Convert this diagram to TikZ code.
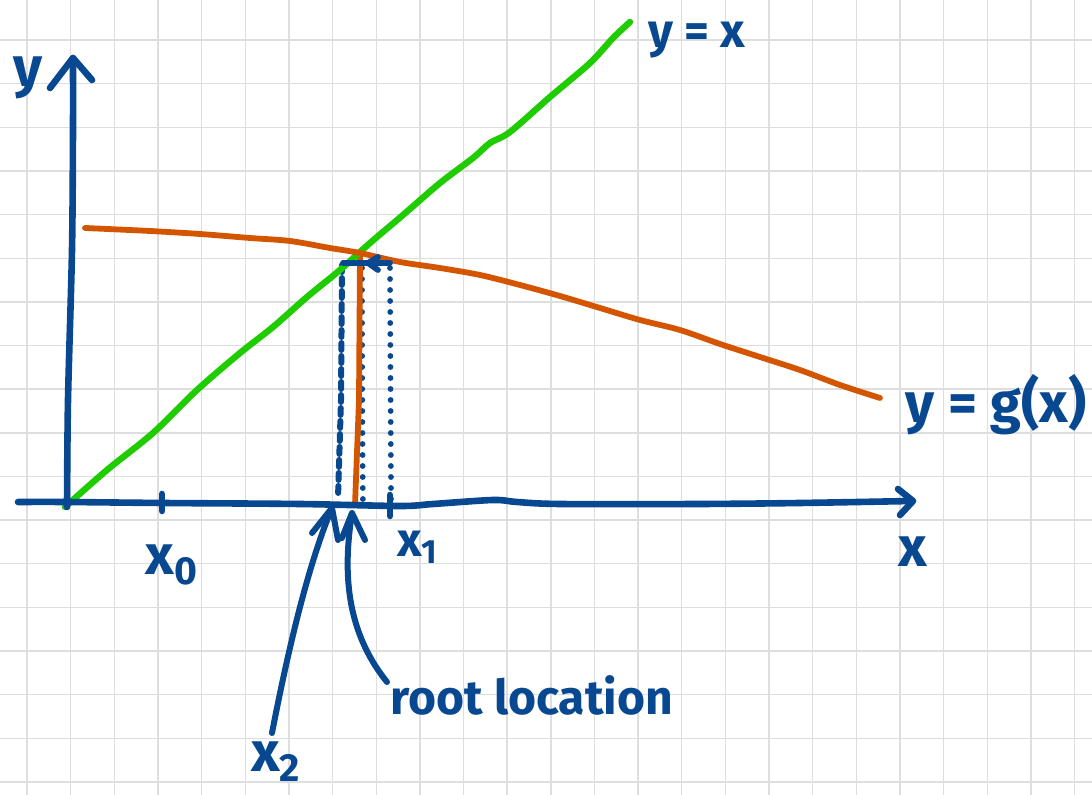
\documentclass[tikz,border=0pt]{standalone}
\usepackage{fontspec}
\setmainfont{Fira Sans}
\definecolor{inkblue}{RGB}{8,72,145}
\definecolor{lgreen}{RGB}{30,204,0}
\definecolor{rorange}{RGB}{212,85,0}
\begin{document}
\begin{tikzpicture}[x=0.5pt,y=-0.5pt,line cap=round,line join=round,
  gridline/.style={draw=black!13,line width=0.7pt},
  inkline/.style={draw=inkblue,line width=3.3pt},
  greenline/.style={draw=lgreen,line width=3.2pt},
  orangeline/.style={draw=rorange,line width=2.9pt},
  inkdot/.style={fill=inkblue},
  dashline/.style={draw=inkblue,line width=3pt,line cap=round,dash pattern=on 3.5pt off 3pt},
  lbl/.style={text=inkblue,inner sep=0pt,font=\bfseries\fontsize{24}{28}\selectfont},
  biglbl/.style={text=inkblue,inner sep=0pt,font=\bfseries\fontsize{28}{32}\selectfont}]
\useasboundingbox (0,0) rectangle (1092,795);
\fill[white] (0,0) rectangle (1092,795);
% grid
\foreach \k in {0,...,24} \draw[gridline] ({27+43.65*\k},0) -- ({27+43.65*\k},795);
\foreach \k in {0,...,17} \draw[gridline] (0,{40+43.65*\k}) -- (1092,{40+43.65*\k});
% dotted construction lines
\draw[dashline] (342,265) -- (341,400) -- (338,498);
\foreach \k in {0,...,21} \fill[inkdot] ({362+0.002*\k*\k},{268+11*\k}) circle[radius=1.45pt];
\foreach \k in {0,...,21} \fill[inkdot] ({390+0.05*\k},{268+11*\k}) circle[radius=1.45pt];
% orange vertical
\draw[orangeline] (360,255) -- (359,400) -- (355,505);
% green line y = x
\draw[greenline] plot[smooth,tension=0.5] coordinates {(65,507) (107,470) (153,433) (197,390) (240,353) (273,327) (307,297) (340,270) (370,243) (403,215) (440,183) (473,158) (490,143) (510,132) (550,97) (590,63) (613,38) (630,22)};
% orange curve y = g(x)
\draw[orangeline] plot[smooth,tension=0.5] coordinates {(85,228) (150,231) (200,234) (250,238) (290,241) (330,248) (360,253) (400,262) (440,268) (480,275) (520,285) (560,296) (600,308) (640,320) (680,330) (720,344) (760,357) (800,370) (840,385) (880,398)};
% top horizontal construction arrow
\draw[inkline,line width=2.9pt] (343,263) -- (390,263);
\draw[inkline,line width=2.9pt] (378,257) -- (368,263) -- (378,270);
% axes
\draw[inkline] plot[smooth,tension=0.5] coordinates {(67,507) (68,400) (72,250) (73,130) (73,58)};
\draw[inkline] (50,88) -- (73,58) -- (92,80);
\draw[inkline] plot[smooth,tension=0.5] coordinates {(18,502) (65,502) (163,503) (300,504) (400,506) (433,504) (493,500) (517,502) (560,504) (700,504) (800,503) (912,501)};
\draw[inkline] (898,489) -- (913,501) -- (900,515);
% ticks
\draw[inkline] (162,494) -- (162,511);
\draw[inkline] (390,495) -- (390,516);
% labels
\node[biglbl] (ylab) at (28,78) {y};
\node[biglbl] (xlab) at (913,552) {x};
\node[lbl] (yx) at (697,40) {y = x};
\node[biglbl] (ygx) at (996,405) {y = g(x)};
\node[biglbl] (x0) at (172,565) {x\textsubscript{0}};
\node[lbl] (x1) at (418,547) {x\textsubscript{1}};
\node[biglbl] (x2) at (276,762) {x\textsubscript{2}};
\node[lbl,anchor=west] (root) at (390,695) {root location};
% pointer arrows
\coordinate (x2tail) at (272,733);
\coordinate (x2tip) at (332,508);
\coordinate (roottail) at (387,682);
\coordinate (roottip) at (352,513);
\draw[inkline,line width=3pt] (x2tail) .. controls (290,640) and (310,560) .. (x2tip);
\draw[inkline,line width=3pt] (312,533) -- (x2tip) -- (338,540);
\draw[inkline,line width=3pt] (roottail) .. controls (345,630) and (343,570) .. (roottip);
\draw[inkline,line width=3pt] (342,538) -- (roottip) -- (365,540);
\end{tikzpicture}
\end{document}
